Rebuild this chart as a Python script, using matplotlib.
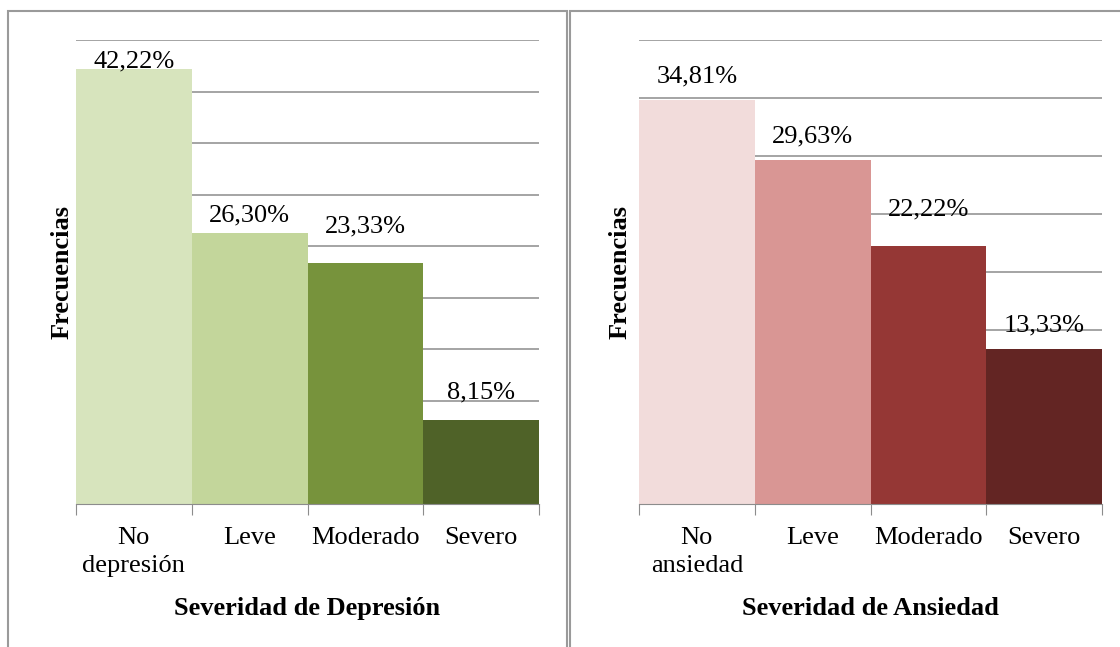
import matplotlib.pyplot as plt
from matplotlib.patches import Rectangle

plt.rcParams['font.family'] = ['Liberation Serif', 'DejaVu Serif']

# Data
dep_categories = ["No\ndepresión", "Leve", "Moderado", "Severo"]
dep_values = [42.22, 26.30, 23.33, 8.15]
dep_colors = ["#D7E4BD", "#C3D69B", "#77933C", "#4F6228"]

anx_categories = ["No\nansiedad", "Leve", "Moderado", "Severo"]
anx_values = [34.81, 29.63, 22.22, 13.33]
anx_colors = ["#F2DCDB", "#D99694", "#953735", "#632523"]

# label baseline offsets (points) as placed in the original chart
dep_label_dy = [0.7, 7.9, 22.3, 15.8]
anx_label_dy = [13, 13, 22.3, 13]

GRID = "#8C8C8C"


def draw_panel(ax, cats, vals, colors, ymax, label_dy, xlabel, ylab_x):
    x = range(len(vals))
    ax.bar(x, vals, width=1.0, color=colors, zorder=2)
    ax.set_xlim(-0.5, len(vals) - 0.5)
    ax.set_ylim(0, ymax)
    ax.set_yticks(range(0, ymax + 1, 5))
    ax.yaxis.grid(True, color=GRID, linewidth=1.1, zorder=0)
    ax.tick_params(axis='y', length=0, labelleft=False)
    for s in ["top", "right", "left"]:
        ax.spines[s].set_visible(False)
    ax.spines["bottom"].set_color(GRID)
    ax.spines["bottom"].set_zorder(3)

    # ticks between categories, labels centred on bars
    ax.set_xticks([i - 0.5 for i in range(len(vals) + 1)])
    ax.set_xticklabels([])
    ax.tick_params(axis='x', which='major', length=8, color=GRID, direction='out')
    ax.set_xticks(list(x), minor=True)
    ax.set_xticklabels(cats, minor=True, fontsize=19, linespacing=1.38)
    ax.tick_params(axis='x', which='minor', length=0, pad=16.5)

    for i, v in enumerate(vals):
        ax.annotate(("%.2f%%" % v).replace(".", ","), (i, v),
                    xytext=(0, label_dy[i]), textcoords="offset points",
                    ha="center", va="baseline", fontsize=19)

    ax.set_xlabel(xlabel, fontsize=19, fontweight="bold", labelpad=14)
    ax.set_ylabel("Frecuencias", fontsize=19, fontweight="bold")
    ax.yaxis.set_label_coords(ylab_x, 0.5)


fig = plt.figure(figsize=(11.2, 6.47), dpi=100)
W, H = 1120.0, 647.0

# panel frames
fig.patches.append(Rectangle((8 / W, -0.1), 559 / W, 1.1 - 11 / H, transform=fig.transFigure,
                             fill=False, edgecolor="#9A9A9A", linewidth=1.5))
fig.patches.append(Rectangle((570 / W, -0.1), 0.6, 1.1 - 11 / H, transform=fig.transFigure,
                             fill=False, edgecolor="#9A9A9A", linewidth=1.5))

ax1 = fig.add_axes([76 / W, (H - 504) / H, 463 / W, 464 / H])
ax2 = fig.add_axes([639 / W, (H - 504) / H, 463 / W, 464 / H])

draw_panel(ax1, dep_categories, dep_values, dep_colors, 45, dep_label_dy,
           "Severidad de Depresión", -0.006)
draw_panel(ax2, anx_categories, anx_values, anx_colors, 40, anx_label_dy,
           "Severidad de Ansiedad", -0.017)

fig.savefig("out.png", dpi=100)
